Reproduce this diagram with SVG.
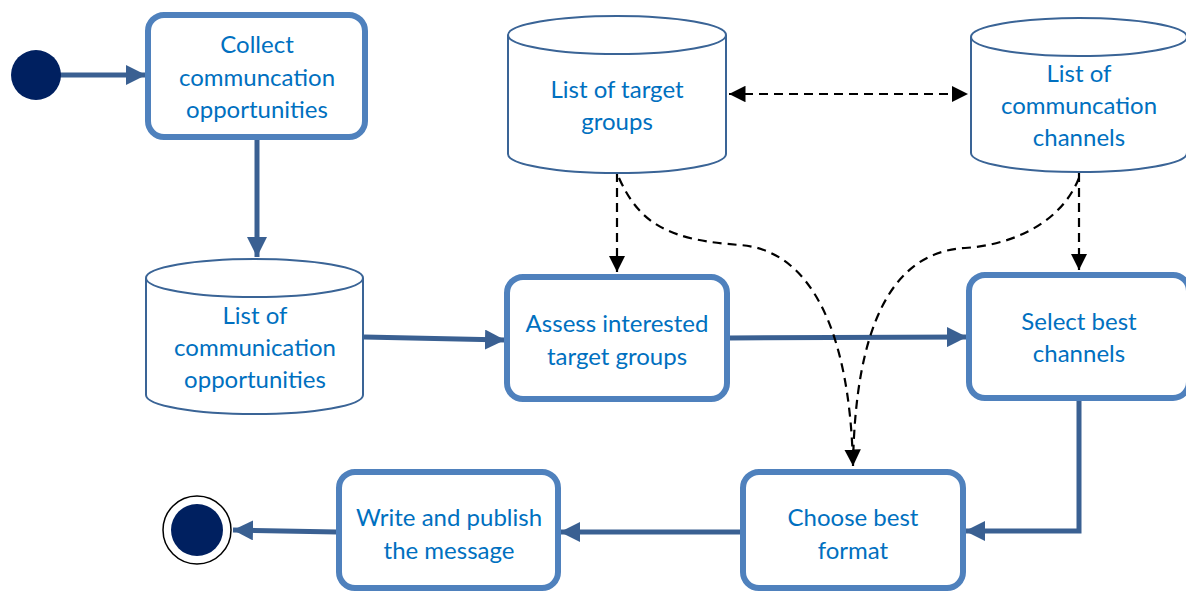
<svg xmlns="http://www.w3.org/2000/svg" width="1186" height="591" viewBox="0 0 1186 591">
<style>
.box{fill:#fff;stroke:#4F81BD;stroke-width:6}
.cyl{fill:#fff;stroke:#3A6496;stroke-width:2}
.t{font-family:Lato,"Liberation Sans",sans-serif;font-size:24px;fill:#0070C0;text-anchor:middle}
.sol{fill:none;stroke:#3A6092;stroke-width:5}
.dash{fill:none;stroke:#000;stroke-width:2.2;stroke-dasharray:9 6}
</style>
<defs>
<marker id="ah" viewBox="0 0 10 10" refX="10" refY="5" markerWidth="4" markerHeight="4" orient="auto" markerUnits="strokeWidth"><path d="M0,0L10,5L0,10z" fill="#3A6092"/></marker>
<marker id="dh" viewBox="0 0 10 10" refX="10" refY="5" markerWidth="7.5" markerHeight="7.5" orient="auto-start-reverse" markerUnits="strokeWidth"><path d="M0,0L10,5L0,10z" fill="#000"/></marker>
</defs>
<g id="connectors">
<path class="sol" d="M60,75H146" marker-end="url(#ah)"/>
<path class="sol" d="M257,139V257" marker-end="url(#ah)"/>
<path class="sol" d="M364,337L505,340" marker-end="url(#ah)"/>
<path class="sol" d="M729,338L967,337" marker-end="url(#ah)"/>
<path class="sol" d="M1079,400V531H965" marker-end="url(#ah)"/>
<path class="sol" d="M741,532H560" marker-end="url(#ah)"/>
<path class="sol" d="M337,532L233,530" marker-end="url(#ah)"/>
<path class="dash" d="M729,94H968" marker-start="url(#dh)" marker-end="url(#dh)"/>
<path class="dash" d="M617,173V272" marker-end="url(#dh)"/>
<path class="dash" d="M1079,173V270" marker-end="url(#dh)"/>
<path class="dash" d="M619,178C640,225 670,240 740,245C810,250 850,330 853,466" marker-end="url(#dh)"/>
<path class="dash" d="M1079,178C1060,225 1010,245 965,248C890,252 855,330 853,466"/>
</g>
<g id="start"><circle cx="36" cy="75" r="25" fill="#002060"/></g>
<g id="collect">
<rect class="box" x="148" y="15" width="217" height="122" rx="16"/>
<text class="t" x="257" y="53">Collect</text>
<text class="t" x="257" y="86">communcation</text>
<text class="t" x="257" y="118">opportunities</text>
</g>
<g id="list-opportunities">
<path class="cyl" d="M146,278V395A108.5,19 0 0 0 363,395V278"/>
<ellipse class="cyl" cx="254.5" cy="278" rx="108.5" ry="19"/>
<text class="t" x="255" y="324">List of</text>
<text class="t" x="255" y="356">communication</text>
<text class="t" x="255" y="388">opportunities</text>
</g>
<g id="list-target">
<path class="cyl" d="M508,35V154A109,19 0 0 0 726,154V35"/>
<ellipse class="cyl" cx="617" cy="35" rx="109" ry="19"/>
<text class="t" x="617" y="98">List of target</text>
<text class="t" x="617" y="130">groups</text>
</g>
<g id="list-channels">
<path class="cyl" d="M971,37V153A108,19 0 0 0 1187,153V37"/>
<ellipse class="cyl" cx="1079" cy="37" rx="108" ry="19"/>
<text class="t" x="1079" y="82">List of</text>
<text class="t" x="1079" y="114">communcation</text>
<text class="t" x="1079" y="146">channels</text>
</g>
<g id="assess">
<rect class="box" x="507" y="277" width="220" height="122" rx="16"/>
<text class="t" x="617" y="332">Assess interested</text>
<text class="t" x="617" y="365">target groups</text>
</g>
<g id="select">
<rect class="box" x="969" y="275" width="220" height="123" rx="16"/>
<text class="t" x="1079" y="330">Select best</text>
<text class="t" x="1079" y="362">channels</text>
</g>
<g id="choose">
<rect class="box" x="743" y="472" width="220" height="116" rx="16"/>
<text class="t" x="853" y="526">Choose best</text>
<text class="t" x="853" y="559">format</text>
</g>
<g id="write">
<rect class="box" x="339" y="472" width="219" height="116" rx="16"/>
<text class="t" x="449" y="526">Write and publish</text>
<text class="t" x="449" y="559">the message</text>
</g>
<g id="end">
<circle cx="197" cy="530" r="34" fill="#fff" stroke="#000" stroke-width="1.5"/>
<circle cx="197" cy="530" r="26" fill="#002060"/>
</g>
</svg>
